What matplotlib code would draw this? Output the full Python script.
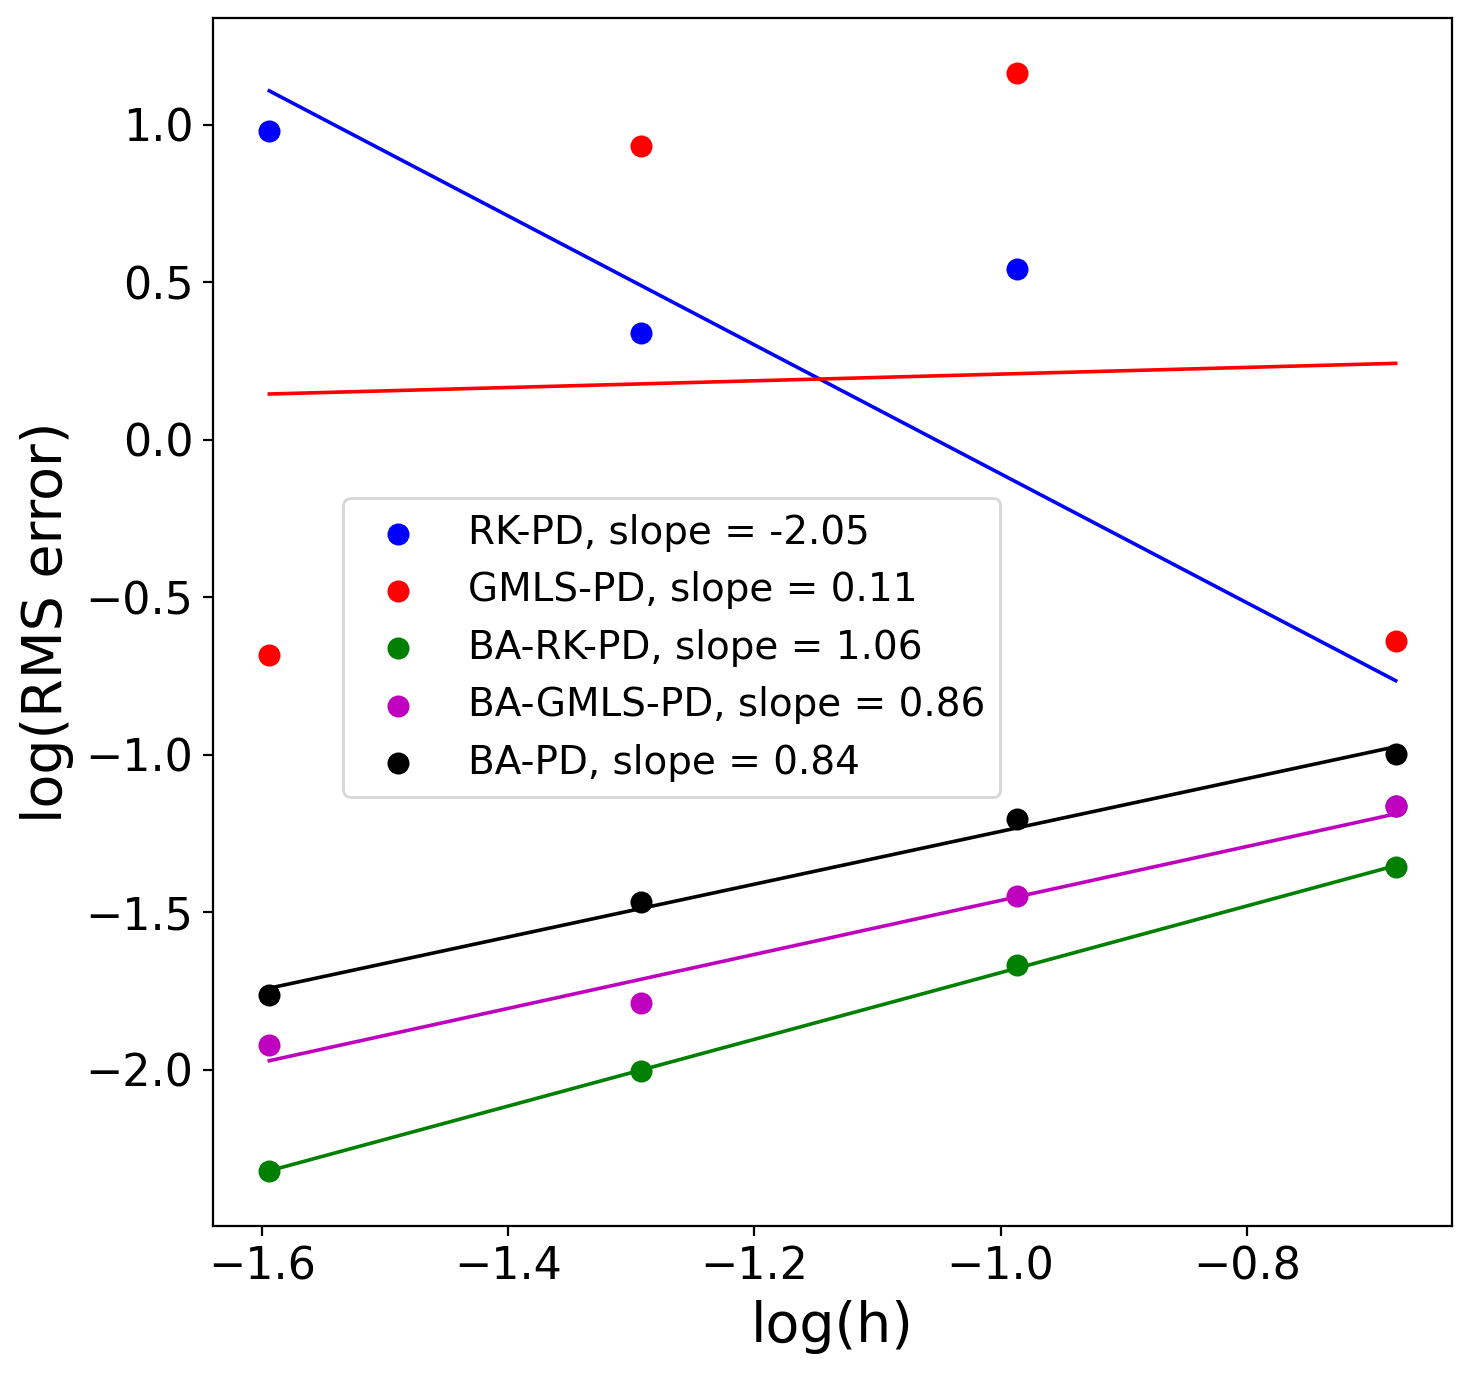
import numpy as np
import matplotlib
matplotlib.use("Agg")
import matplotlib.pyplot as plt

# log(h) for the four refinements
log_h = [-1.594, -1.292, -0.987, -0.679]

# log(RMS error) per method
rk_pd = [0.980, 0.339, 0.542, -1.164]
gmls_pd = [-0.682, 0.932, 1.164, -0.640]
ba_rk_pd = [-2.321, -2.004, -1.668, -1.357]
ba_gmls_pd = [-1.921, -1.788, -1.449, -1.164]
ba_pd = [-1.763, -1.468, -1.205, -0.999]

methods = ["RK-PD", "GMLS-PD", "BA-RK-PD", "BA-GMLS-PD", "BA-PD"]
slopes = ["-2.05", "0.11", "1.06", "0.86", "0.84"]
colors = ["b", "r", "g", "m", "k"]
series = [rk_pd, gmls_pd, ba_rk_pd, ba_gmls_pd, ba_pd]

fig, ax = plt.subplots(figsize=(7.36, 6.875), dpi=200)

x = np.array(log_h)
for name, slope, c, y in zip(methods, slopes, colors, series):
    y = np.array(y)
    ax.scatter(x, y, color=c, s=48, label=f"{name}, slope = {slope}")
    # least squares fit line
    p = np.polyfit(x, y, 1)
    ax.plot(x, np.polyval(p, x), color=c, linewidth=1.3)

ax.set_xlabel("log(h)", fontsize=20)
ax.set_ylabel("log(RMS error)", fontsize=20)
ax.tick_params(labelsize=16)
ax.legend(fontsize=14, loc="lower left", bbox_to_anchor=(0.105, 0.355),
          borderaxespad=0)

fig.subplots_adjust(left=0.1447, right=0.9864, bottom=0.1084, top=0.9869)
fig.savefig("out.png", dpi=200)
